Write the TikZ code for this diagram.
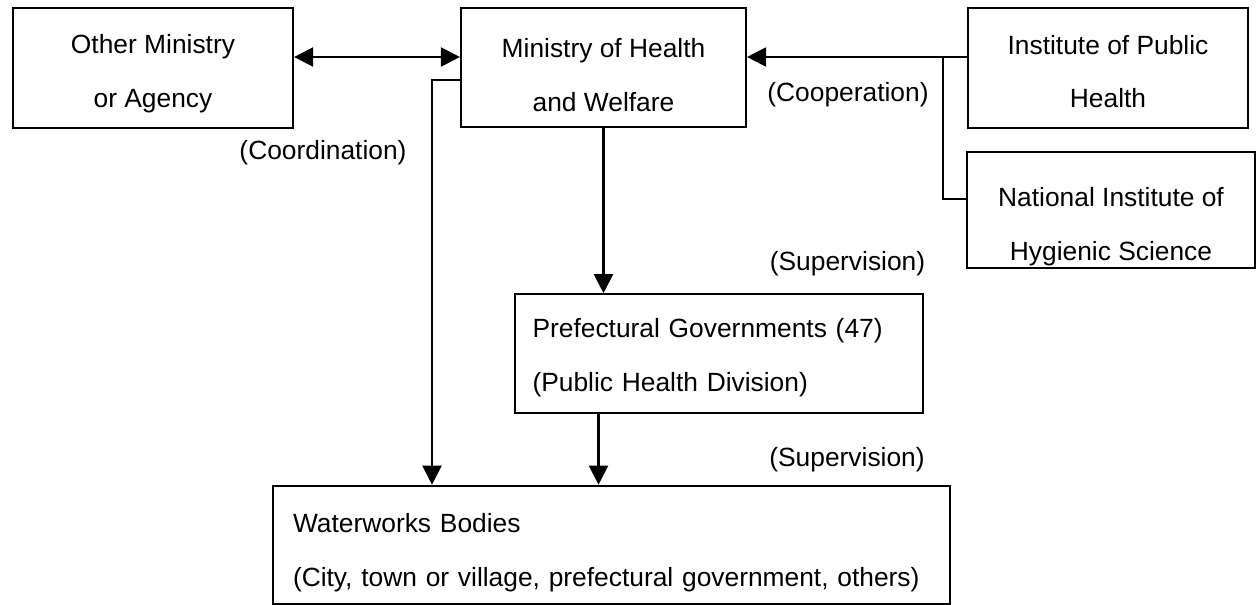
\documentclass[tikz,border=0pt]{standalone}
\usepackage{fontspec}
\setmainfont{Liberation Sans}
\usetikzlibrary{arrows.meta}

% invisible strut that pushes the first text line down
\newcommand{\toppad}[1]{\rule{0pt}{#1}}

\begin{document}
\begin{tikzpicture}[
    line width=1.2pt,
    >={Triangle[length=0.38cm, width=0.38cm]},
    every node/.style={font=\fontsize{15}{30.6}\selectfont},
    unit/.style={rectangle, draw, line width=1.2pt, align=center, inner sep=0pt},
    office/.style={unit, align=left, inner xsep=0.35cm, minimum height=2.37cm}
]
\useasboundingbox (0,0) rectangle (25.2,-12.1);

% Top row of ministries and institutes
\node[unit, minimum width=5.6cm, minimum height=2.4cm] (other) at (3.06,-1.36) {\toppad{17.7pt}Other Ministry\\or Agency};
\node[unit, minimum width=5.7cm, minimum height=2.38cm] (mhw) at (12.07,-1.35) {\toppad{19.5pt}Ministry of Health\\and Welfare};
\node[unit, minimum width=5.6cm, minimum height=2.4cm] (iph) at (22.16,-1.36) {\toppad{15pt}Institute of Public\\Health};
\node[unit, minimum width=5.76cm, minimum height=2.32cm] (nihs) at (22.22,-4.2) {\toppad{30pt}National Institute of\\Hygienic Science};

% Lower levels
\node[office, text width=7.46cm] (pref) at (14.38,-7.07) {\toppad{16pt}Prefectural Governments (47)\\(Public Health Division)};
\node[office, inner xsep=0.4cm, text width=12.74cm] (water) at (12.23,-10.9) {\toppad{20pt}Waterworks Bodies\\(City, town or village, prefectural government, others)};

% Coordination with other ministries
\draw[<->] ([yshift=0.22cm]other.east) -- ([yshift=0.22cm]other.east -| mhw.west);
\node (coord) at (6.46,-3.06) {(Coordination)};

% Cooperation from the institutes
\coordinate (split) at (18.86,-1.14);
\draw[->] ([yshift=0.22cm]iph.west) -- ([yshift=0.22cm]iph.west -| mhw.east);
\draw ([yshift=0.22cm]nihs.west) -| (split);
\node (coop) at (16.96,-1.9) {(Cooperation)};

% Supervision down the line
\draw[->] (mhw.south) -- (mhw.south |- pref.north);
\node (supA) at (16.95,-5.28) {(Supervision)};

\coordinate (bend) at (8.64,-1.6);
\draw[->] ([yshift=-0.25cm]mhw.west) -- (bend) -- (bend |- water.north);
\draw[->] ([xshift=-0.1cm]pref.south -| mhw.south) -- ([xshift=-0.1cm]water.north -| mhw.south);
\node (supB) at (16.94,-9.2) {(Supervision)};

\end{tikzpicture}
\end{document}
